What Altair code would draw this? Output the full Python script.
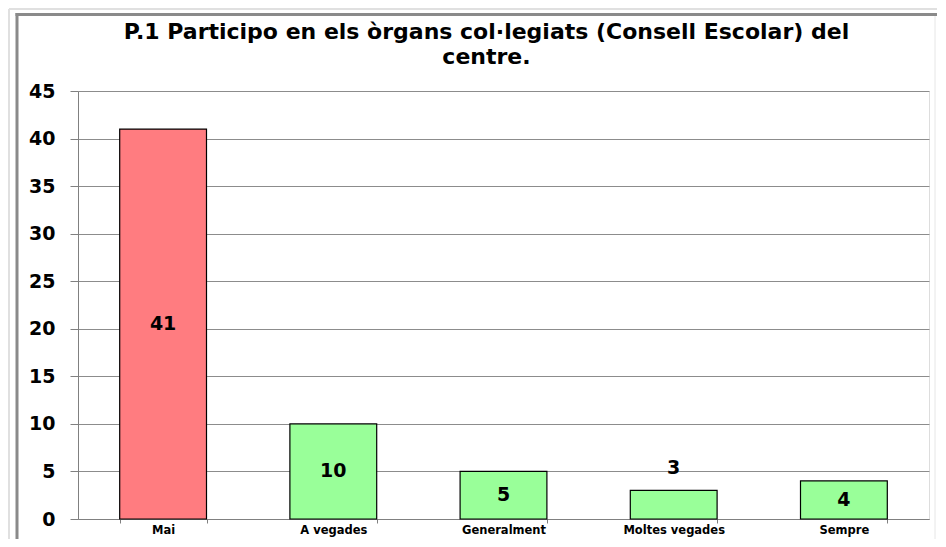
import altair as alt
import pandas as pd

categories = ["Mai", "A  vegades", "Generalment", "Moltes vegades", "Sempre"]
values = [41, 10, 5, 3, 4]
colors = ["#FF7C80", "#99FF99", "#99FF99", "#99FF99", "#99FF99"]
label_above = [False, False, False, True, False]
y_ticks = [0, 5, 10, 15, 20, 25, 30, 35, 40, 45]
title_lines = ["P.1 Participo en els òrgans col·legiats (Consell Escolar) del", "centre."]

df = pd.DataFrame({
    "cat": categories,
    "val": values,
    "color": colors,
    "above": label_above,
})
df["mid"] = df["val"] / 2
one = pd.DataFrame({"k": [0]})
titles = pd.DataFrame({"line": [0, 1], "text": title_lines})

W, H = 851, 428
FONT = "DejaVu Sans"

x = alt.X("cat:N", sort=categories, title=None,
          scale=alt.Scale(paddingInner=0.49, paddingOuter=0.245),
          axis=alt.Axis(labelAngle=0, labelFont=FONT, labelFontWeight="bold",
                        labelFontSize=11.5, labelColor="#000000", labelPadding=1,
                        domainColor="#808080", tickColor="#808080", tickSize=4,
                        tickBand="extent", grid=False))
y_scale = alt.Scale(domain=[0, 45], nice=False)

bars = alt.Chart(df).mark_bar(stroke="#000000", strokeWidth=1.2).encode(
    x=x,
    y=alt.Y("val:Q", scale=y_scale, title=None,
            axis=alt.Axis(values=y_ticks, labelFont=FONT, labelFontWeight="bold",
                          labelFontSize=19, labelColor="#000000", labelPadding=15,
                          domainColor="#808080", tickColor="#808080", tickSize=8,
                          gridColor="#8C8C8C", gridWidth=1)),
    color=alt.Color("color:N", scale=None),
)

inside = alt.Chart(df).transform_filter("!datum.above").mark_text(
    font=FONT, fontWeight="bold", fontSize=19, color="#000000", baseline="middle"
).encode(x=alt.X("cat:N", sort=categories), y=alt.Y("mid:Q", scale=y_scale), text="val:Q")

outside = alt.Chart(df).transform_filter("datum.above").mark_text(
    font=FONT, fontWeight="bold", fontSize=19, color="#000000", baseline="middle", dy=-22
).encode(x=alt.X("cat:N", sort=categories), y=alt.Y("val:Q", scale=y_scale), text="val:Q")

title1 = alt.Chart(titles).transform_filter("datum.line == 0").mark_text(
    font=FONT, fontWeight="bold", fontSize=22, color="#000000",
    align="center", baseline="alphabetic"
).encode(x=alt.value(408.5), y=alt.value(-52), text="text:N")
title2 = alt.Chart(titles).transform_filter("datum.line == 1").mark_text(
    font=FONT, fontWeight="bold", fontSize=22, color="#000000",
    align="center", baseline="alphabetic"
).encode(x=alt.value(408.5), y=alt.value(-27), text="text:N")

frame_outer_left = alt.Chart(one).mark_rule(color="#E0E0E0", strokeWidth=2).encode(
    x=alt.value(-69), y=alt.value(-82), y2=alt.value(H + 20))
frame_outer_top = alt.Chart(one).mark_rule(color="#E0E0E0", strokeWidth=2).encode(
    x=alt.value(-69), x2=alt.value(W + 8), y=alt.value(-82))
frame_left = alt.Chart(one).mark_rule(color="#8A8A8A", strokeWidth=3).encode(
    x=alt.value(-61), y=alt.value(-78), y2=alt.value(H + 20))
frame_top = alt.Chart(one).mark_rule(color="#8A8A8A", strokeWidth=3).encode(
    x=alt.value(-62.5), x2=alt.value(W + 8), y=alt.value(-76.5))
frame_right = alt.Chart(one).mark_rule(color="#E6E6E6", strokeWidth=1).encode(
    x=alt.value(W + 6), y=alt.value(-75), y2=alt.value(H + 20))

chart = alt.layer(
    frame_outer_left, frame_outer_top, frame_left, frame_top, frame_right,
    bars, inside, outside, title1, title2
).properties(
    width=W, height=H,
    autosize=alt.AutoSizeParams(type="none"),
    padding={"left": 70, "top": 83, "right": 8, "bottom": 20},
).configure_view(stroke=None).configure(background="#FFFFFF")

chart.save("out.html", embed_options={"renderer": "svg", "actions": False})
